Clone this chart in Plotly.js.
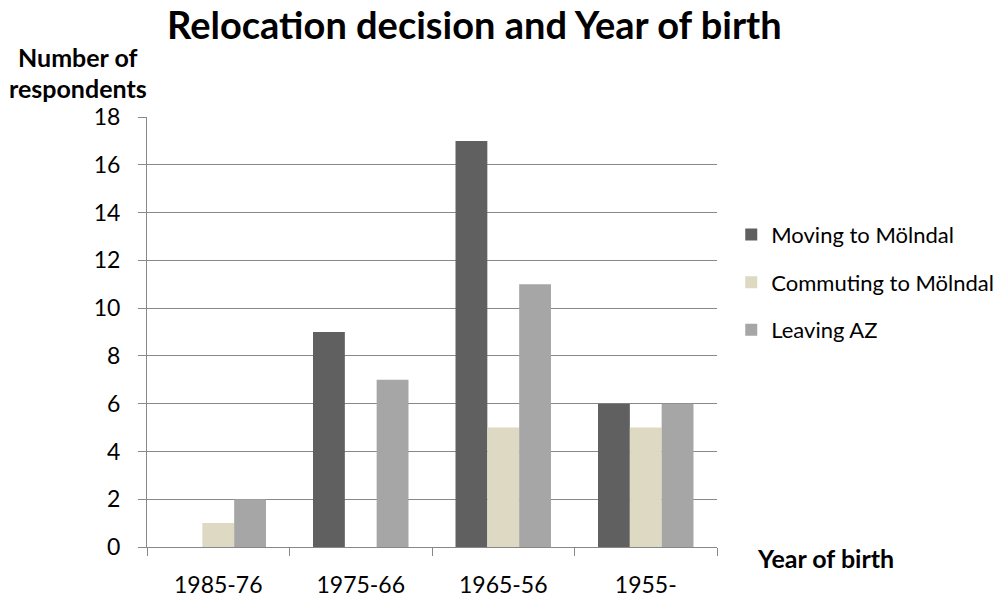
<!DOCTYPE html>
<html><head><meta charset="utf-8">
<script src="https://cdn.plot.ly/plotly-3.0.1.min.js"></script>
<style>body{margin:0;background:#fff}#c{width:1005px;height:600px}</style>
</head><body><div id="c"></div>
<script>
const categories = ["1985-76", "1975-66", "1965-56", "1955-"];
const moving = [0, 9, 17, 6];
const commuting = [1, 0, 5, 5];
const leaving = [2, 7, 11, 6];
const seriesNames = ["Moving to Mölndal", "Commuting to Mölndal", "Leaving AZ"];
const colors = ["#606060", "#ddd9c3", "#a6a6a6"];
const yTicks = [0, 2, 4, 6, 8, 10, 12, 14, 16, 18];

const F = "Lato, 'Liberation Sans', sans-serif";
const data = [moving, commuting, leaving].map((v, i) => ({
  type: "bar", x: categories, y: v, name: seriesNames[i], legendgroup: "g" + i,
  marker: {color: colors[i]}, hoverinfo: "none"
}));
const layout = {
  width: 1005, height: 600,
  margin: {l: 147, r: 288, t: 117, b: 53, autoexpand: false},
  paper_bgcolor: "#fff", plot_bgcolor: "#fff",
  font: {family: F, color: "#000", size: 23},
  title: {text: "<b>Relocation decision and Year of birth</b>", x: 0.472, xanchor: "center", y: 0.958, yanchor: "middle", font: {size: 38, family: F}},
  barmode: "group", bargap: 0.33, bargroupgap: 0,
  xaxis: {type: "category", tickson: "boundaries", ticks: "outside", ticklen: 8, tickcolor: "#888", tickwidth: 1,
    showline: true, linecolor: "#888", linewidth: 1, showgrid: false, tickfont: {size: 23}, ticklabelstandoff: 17},
  yaxis: {range: [0, 18], tickvals: yTicks, ticks: "outside", ticklen: 8, tickcolor: "#888",
    showline: true, linecolor: "#888", gridcolor: "#888", gridwidth: 1, zeroline: false, tickfont: {size: 23}, ticklabelstandoff: 13},
  showlegend: true,
  legend: {x: 1.025, y: 0.775, xanchor: "left", yanchor: "top", font: {size: 22}, traceorder: "grouped", tracegroupgap: 16, itemwidth: 30, bgcolor: "rgba(0,0,0,0)"},
  annotations: [
    {text: "<b>Number of</b>", xref: "paper", yref: "paper", x: -0.121, y: 1.1395, xanchor: "center", yanchor: "middle", showarrow: false, font: {size: 25}},
    {text: "<b>respondents</b>", xref: "paper", yref: "paper", x: -0.121, y: 1.067, xanchor: "center", yanchor: "middle", showarrow: false, font: {size: 25}},
    {text: "<b>Year of birth</b>", xref: "paper", yref: "paper", x: 1.0667, y: -0.0256, xanchor: "left", yanchor: "middle", showarrow: false, font: {size: 25}}
  ]
};
Plotly.newPlot("c", data, layout, {displayModeBar: false, staticPlot: true});
</script></body></html>
